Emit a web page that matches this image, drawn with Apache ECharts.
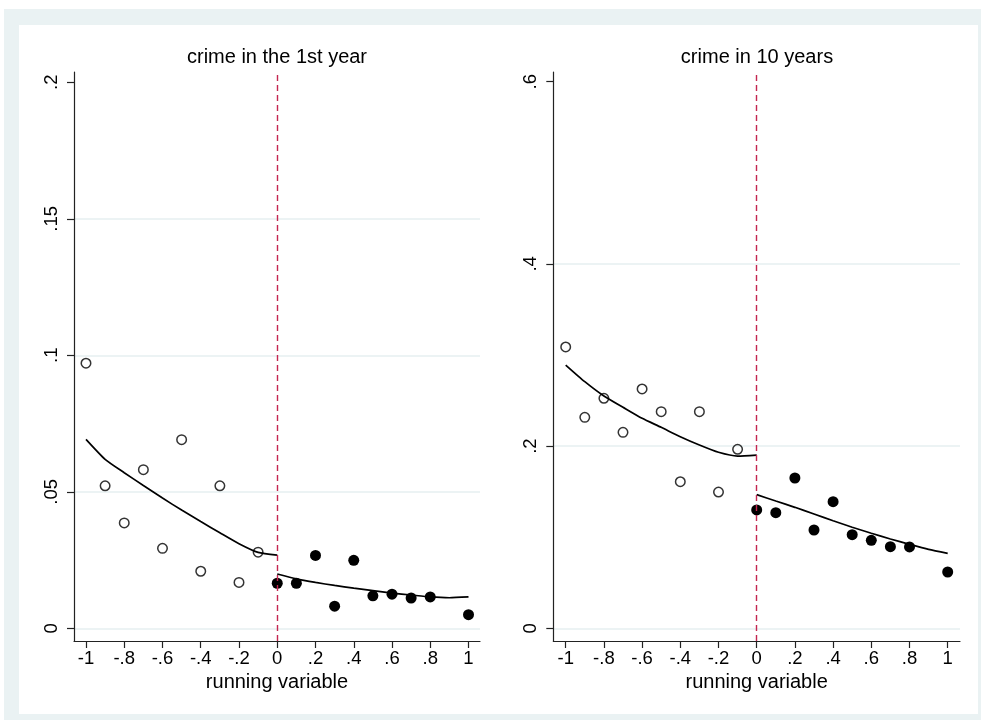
<!DOCTYPE html>
<html>
<head>
<meta charset="utf-8">
<script src="https://cdn.jsdelivr.net/npm/echarts@6/dist/echarts.min.js"></script>
<style>
  html, body { margin: 0; padding: 0; background: #ffffff; }
  #frame { position: absolute; left: 4px; top: 9px; width: 977px; height: 711px; background: #eaf2f3; }
  #inner { position: absolute; left: 19px; top: 25px; width: 959px; height: 689px; background: #ffffff; }
  #chart { position: absolute; left: 0; top: 0; width: 981px; height: 720px; }
</style>
</head>
<body>
<div id="frame"></div>
<div id="inner"></div>
<div id="chart"></div>
<script>
// Bin centres of the running variable (below and above the cutoff)
const binsBelow = [-1, -0.9, -0.8, -0.7, -0.6, -0.5, -0.4, -0.3, -0.2, -0.1];
const binsAbove = [0, 0.1, 0.2, 0.3, 0.4, 0.5, 0.6, 0.7, 0.8, 1];

// Crime in the 1st year: bin means
const crime1Below = [0.0971, 0.0522, 0.0386, 0.0581, 0.0293, 0.0691, 0.0209, 0.0522, 0.0168, 0.0279];
const crime1Above = [0.0165, 0.0165, 0.0267, 0.0081, 0.0249, 0.0119, 0.0125, 0.0111, 0.0115, 0.0050];

// Crime in 10 years: bin means
const crime10Below = [0.3088, 0.2316, 0.2525, 0.2151, 0.2627, 0.2378, 0.1609, 0.2378, 0.1496, 0.1965];
const crime10Above = [0.1299, 0.1269, 0.1650, 0.1079, 0.1390, 0.1028, 0.0966, 0.0896, 0.0893, 0.0618];

// Fitted curves on each side of the cutoff
const fitXBelow = [-1, -0.9, -0.8, -0.7, -0.6, -0.5, -0.4, -0.3, -0.2, -0.1, 0];
const fitXAbove = [0, 0.1, 0.2, 0.3, 0.4, 0.5, 0.6, 0.7, 0.8, 0.9, 1];
const fit1Below = [0.0692, 0.0619, 0.0570, 0.0523, 0.0477, 0.0433, 0.0391, 0.0350, 0.0310, 0.0278, 0.0268];
const fit1Above = [0.0199, 0.0181, 0.0168, 0.0157, 0.0147, 0.0138, 0.0129, 0.0122, 0.0115, 0.0112, 0.0115];
const fit10Below = [0.2890, 0.2707, 0.2550, 0.2426, 0.2305, 0.2206, 0.2103, 0.2012, 0.1932, 0.1891, 0.1902];
const fit10Above = [0.1467, 0.1397, 0.1328, 0.1255, 0.1181, 0.1109, 0.1043, 0.0980, 0.0922, 0.0867, 0.0823];

// Tick labels
const xTicks = [-1, -0.8, -0.6, -0.4, -0.2, 0, 0.2, 0.4, 0.6, 0.8, 1];
const yTicks1 = [0, 0.05, 0.1, 0.15, 0.2];
const yTicks10 = [0, 0.2, 0.4, 0.6];

const titles = ['crime in the 1st year', 'crime in 10 years'];
const xTitle = 'running variable';
const cutoff = 0;

const FONT = '"Liberation Sans", Arial, sans-serif';
const GRID_COLOR = '#e6eff1';
const CUT_COLOR = '#c42650';
const AXIS_COLOR = '#222';

const zip = (xs, ys) => xs.map((x, i) => [x, ys[i]]);
const fmt = v => {
  if (v === 0) return '0';
  const s = String(Math.round(v * 100) / 100);
  return s.replace('0.', '.');
};

function xAxisFor(gridIndex, min, max) {
  return {
    type: 'value', gridIndex, min, max,
    name: xTitle, nameLocation: 'middle', nameGap: 29,
    nameTextStyle: { color: '#000', fontFamily: FONT, fontSize: 20 },
    axisLine: { show: true, onZero: false, lineStyle: { color: AXIS_COLOR, width: 1.2 } },
    axisTick: { show: true, length: 7, customValues: xTicks, lineStyle: { color: AXIS_COLOR, width: 1.2 } },
    axisLabel: { customValues: xTicks, formatter: fmt, color: '#000', fontFamily: FONT, fontSize: 18.5, margin: 8 },
    splitLine: { show: false }
  };
}

function yAxisFor(gridIndex, min, max, ticks) {
  const colors = ticks.map((t, i) => i === ticks.length - 1 ? 'rgba(0,0,0,0)' : GRID_COLOR);
  return {
    type: 'value', gridIndex, min, max,
    axisLine: { show: true, onZero: false, lineStyle: { color: AXIS_COLOR, width: 1.2 } },
    axisTick: { show: true, length: 7, customValues: ticks, lineStyle: { color: AXIS_COLOR, width: 1.2 } },
    axisLabel: { customValues: ticks, formatter: fmt, rotate: 90, color: '#000', fontFamily: FONT, fontSize: 18.5, margin: 13 },
    splitLine: { show: true, lineStyle: { color: colors, width: 1.6 } }
  };
}

function panelSeries(idx, xb, yb, xa, ya, fxb, fyb, fxa, fya) {
  const common = { xAxisIndex: idx, yAxisIndex: idx };
  const fitLine = { color: '#000', width: 1.7 };
  return [
    Object.assign({
      type: 'line', data: zip(fxb, fyb), smooth: 0.2, showSymbol: false, z: 2,
      lineStyle: fitLine,
      markLine: {
        silent: true, symbol: 'none', label: { show: false },
        lineStyle: { color: CUT_COLOR, type: [6, 4], width: 1.4 },
        data: [{ xAxis: cutoff }]
      }
    }, common),
    Object.assign({
      type: 'line', data: zip(fxa, fya), smooth: 0.2, showSymbol: false, z: 2,
      lineStyle: fitLine
    }, common),
    Object.assign({
      type: 'scatter', data: zip(xb, yb), symbol: 'circle', symbolSize: 9.5, z: 3,
      itemStyle: { color: 'rgba(0,0,0,0)', borderColor: '#000', borderWidth: 1.5 }
    }, common),
    Object.assign({
      type: 'scatter', data: zip(xa, ya), symbol: 'circle', symbolSize: 11, z: 3,
      itemStyle: { color: '#000', opacity: 1 }
    }, common)
  ];
}

const chart = echarts.init(document.getElementById('chart'), null, { renderer: 'canvas' });
chart.setOption({
  animation: false,
  backgroundColor: 'transparent',
  graphic: [
    { type: 'text', x: 277, y: 57, style: { text: titles[0], textAlign: 'center', textVerticalAlign: 'middle', font: '20px ' + FONT, fill: '#000' } },
    { type: 'text', x: 757, y: 57, style: { text: titles[1], textAlign: 'center', textVerticalAlign: 'middle', font: '20px ' + FONT, fill: '#000' } }
  ],
  grid: [
    { left: 74, top: 72, width: 406, height: 569, containLabel: false },
    { left: 553.3, top: 72, width: 406.7, height: 569, containLabel: false }
  ],
  xAxis: [
    xAxisFor(0, -1.0627, 1.0601),
    xAxisFor(1, -1.0649, 1.0644)
  ],
  yAxis: [
    yAxisFor(0, -0.00465, 0.20377, yTicks1),
    yAxisFor(1, -0.01394, 0.61065, yTicks10)
  ],
  series: [].concat(
    panelSeries(0, binsBelow, crime1Below, binsAbove, crime1Above, fitXBelow, fit1Below, fitXAbove, fit1Above),
    panelSeries(1, binsBelow, crime10Below, binsAbove, crime10Above, fitXBelow, fit10Below, fitXAbove, fit10Above)
  )
});
</script>
</body>
</html>
